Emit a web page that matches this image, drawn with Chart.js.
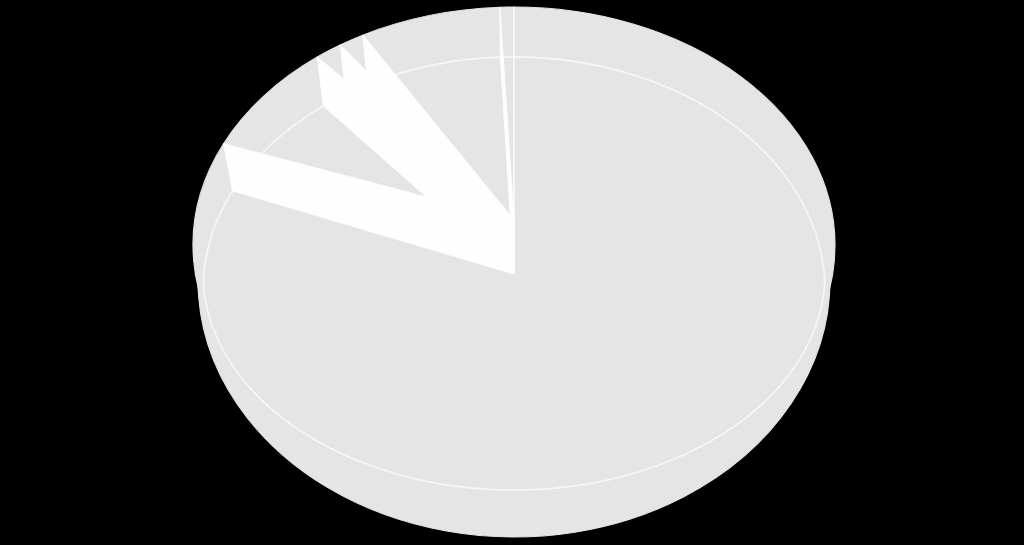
<!DOCTYPE html>
<html>
<head>
<meta charset="utf-8">
<style>
  html, body { margin: 0; padding: 0; background: #000; overflow: hidden; }
  canvas { display: block; }
</style>
</head>
<body>
<canvas id="pie3d" width="1024" height="545"></canvas>
<script src="https://cdn.jsdelivr.net/npm/chart.js@4"></script>
<script>
// values, share of the circle in percent
const categories = ['A', 'B', 'C', 'D', 'E', 'F'];
const shares = [82.0, 7.5, 1.4, 1.3, 7.1, 0.7];

const greyFace = '#e5e5e5';
const whiteWall = '#fefefe';

// outlines of the tilted disc, the halves differ because of the perspective
const upperRim = { x: 514, y: 245, rx: 321, up: 238, down: 238, apexY: 220 };
const baseEdge = { x: 514, y: 280, rx: 316, up: 1, down: 257 };
const lowerRim = { x: 514, upY: 290, downY: 273.5, joinY: 282, rx: 311, up: 233, down: 216.5, apexY: 274 };

function drawFace(chart, meta, face) {
  const ctx = chart.ctx;
  const arc = meta.data[0];
  [[0, face.y, face.up], [face.y, 545, face.down]].forEach(function (part) {
    ctx.save();
    ctx.beginPath();
    ctx.rect(0, part[0], 1024, part[1] - part[0]);
    ctx.clip();
    ctx.translate(face.x, face.y);
    ctx.scale(face.rx / arc.outerRadius, part[2] / arc.outerRadius);
    ctx.translate(-arc.x, -arc.y);
    meta.controller.draw();
    ctx.restore();
  });
}

function rimPoint(rim, angle) {
  const t = angle + Math.PI / 2;
  const c = Math.cos(t);
  const y = rim.y !== undefined ? rim.y : (c > 0 ? rim.upY : rim.downY);
  return { x: rim.x + rim.rx * Math.sin(t), y: y - (c > 0 ? rim.up : rim.down) * c };
}

function strokeHalf(ctx, cy, ry, top, bottom, from, to) {
  ctx.save();
  ctx.beginPath();
  ctx.rect(0, top, 1024, bottom - top);
  ctx.clip();
  ctx.beginPath();
  ctx.ellipse(lowerRim.x, cy, lowerRim.rx, ry, 0, from, to);
  ctx.stroke();
  ctx.restore();
}

const disc3d = {
  id: 'disc3d',
  beforeDatasetDraw(chart, args) {
    const meta = args.meta;
    const ctx = chart.ctx;
    // body of the disc
    drawFace(chart, meta, upperRim);
    drawFace(chart, meta, baseEdge);

    // rim line
    ctx.save();
    ctx.strokeStyle = '#f6f6f6';
    ctx.lineWidth = 1.8;
    strokeHalf(ctx, lowerRim.upY, lowerRim.up, 0, lowerRim.joinY, Math.PI, 2 * Math.PI);
    strokeHalf(ctx, lowerRim.downY, lowerRim.down, lowerRim.joinY, 545, 0, Math.PI);

    // the walls of the slices, one for each slice edge
    ctx.fillStyle = whiteWall;
    ctx.strokeStyle = whiteWall;
    ctx.lineWidth = 1;
    meta.data.forEach(function (arc) {
      const top = rimPoint(upperRim, arc.startAngle);
      const bottom = rimPoint(lowerRim, arc.startAngle);
      ctx.beginPath();
      ctx.moveTo(upperRim.x, upperRim.apexY);
      ctx.lineTo(top.x, top.y);
      ctx.lineTo(bottom.x, bottom.y);
      ctx.lineTo(lowerRim.x, lowerRim.apexY);
      ctx.closePath();
      ctx.fill();
      ctx.stroke();
    });
    ctx.restore();
    return false;
  }
};

new Chart(document.getElementById('pie3d'), {
  type: 'pie',
  data: {
    labels: categories,
    datasets: [{
      data: shares,
      backgroundColor: greyFace,
      borderColor: greyFace,
      borderWidth: 1
    }]
  },
  options: {
    responsive: false,
    animation: false,
    plugins: { legend: { display: false }, tooltip: { enabled: false } }
  },
  plugins: [disc3d]
});
</script>
</body>
</html>
